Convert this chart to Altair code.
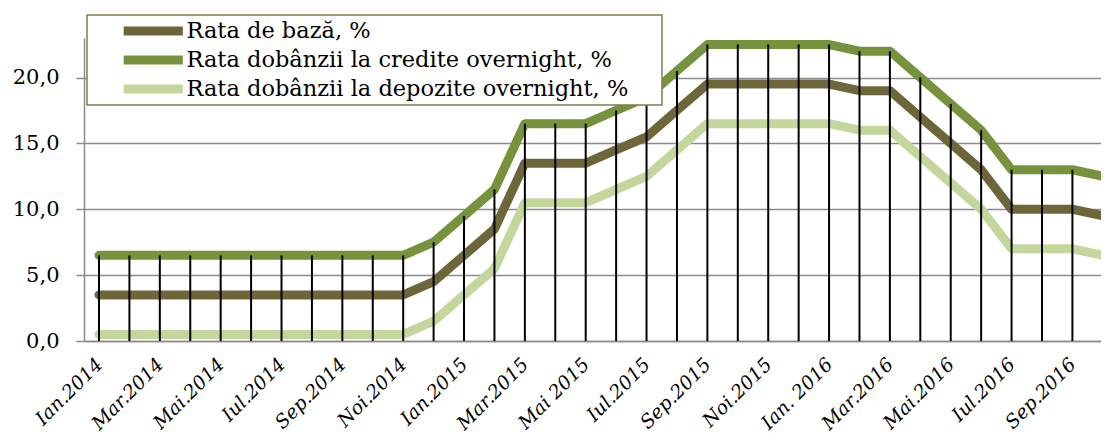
import json
import altair as alt
import pandas as pd

# ---- data ----
months = [
    "Ian.2014", "Feb.2014", "Mar.2014", "Apr.2014", "Mai.2014", "Iun.2014",
    "Iul.2014", "Aug.2014", "Sep.2014", "Oct.2014", "Noi.2014", "Dec.2014",
    "Ian.2015", "Feb.2015", "Mar.2015", "Apr.2015", "Mai 2015", "Iun.2015",
    "Iul.2015", "Aug.2015", "Sep.2015", "Oct.2015", "Noi.2015", "Dec.2015",
    "Ian. 2016", "Feb.2016", "Mar.2016", "Apr.2016", "Mai.2016", "Iun.2016",
    "Iul.2016", "Aug.2016", "Sep.2016", "Oct.2016",
]
rata_baza = [
    3.5, 3.5, 3.5, 3.5, 3.5, 3.5, 3.5, 3.5, 3.5, 3.5, 3.5, 4.5,
    6.5, 8.5, 13.5, 13.5, 13.5, 14.5, 15.5, 17.5, 19.5, 19.5, 19.5, 19.5,
    19.5, 19.0, 19.0, 17.0, 15.0, 13.0, 10.0, 10.0, 10.0, 9.5,
]
rata_credite = [
    6.5, 6.5, 6.5, 6.5, 6.5, 6.5, 6.5, 6.5, 6.5, 6.5, 6.5, 7.5,
    9.5, 11.5, 16.5, 16.5, 16.5, 17.5, 18.5, 20.5, 22.5, 22.5, 22.5, 22.5,
    22.5, 22.0, 22.0, 20.0, 18.0, 16.0, 13.0, 13.0, 13.0, 12.5,
]
rata_depozite = [
    0.5, 0.5, 0.5, 0.5, 0.5, 0.5, 0.5, 0.5, 0.5, 0.5, 0.5, 1.5,
    3.5, 5.5, 10.5, 10.5, 10.5, 11.5, 12.5, 14.5, 16.5, 16.5, 16.5, 16.5,
    16.5, 16.0, 16.0, 14.0, 12.0, 10.0, 7.0, 7.0, 7.0, 6.5,
]
series_names = [
    "Rata de bază, %",
    "Rata dobânzii la credite overnight, %",
    "Rata dobânzii la depozite overnight,  %",
]
series_colors = ["#6E663B", "#76923C", "#C3D69B"]
y_ticks = [0, 5, 10, 15, 20]
x_tick_idx = list(range(0, len(months), 2))

# ---- tables ----
rows = []
for name, vals in zip(series_names, [rata_baza, rata_credite, rata_depozite]):
    for i, v in enumerate(vals):
        rows.append({"idx": i, "luna": months[i], "serie": name, "valoare": v})
df = pd.DataFrame(rows)
drops = pd.DataFrame({"idx": list(range(len(months))), "sus": rata_credite})

FONT = "DejaVu Serif"
GRAY = "#8C8C8C"

x_scale = alt.Scale(domain=[-0.493, 32.94], nice=False, zero=False)
y_scale = alt.Scale(domain=[0, 23], nice=False)

label_expr = json.dumps(months) + "[datum.value]"

x_enc = alt.X(
    "idx:Q", scale=x_scale, title=None,
    axis=alt.Axis(
        values=x_tick_idx, labelExpr=label_expr, labelAngle=-45,
        labelAlign="right", labelBaseline="middle", labelPadding=20,
        ticks=False, grid=False, domainColor=GRAY, domainWidth=1.5,
        labelFont=FONT, labelFontSize=19, labelFontStyle="italic",
        labelColor="#000000", labelOverlap=False,
    ),
)

lines = alt.Chart(df).mark_line(
    strokeWidth=9, strokeCap="round", strokeJoin="round"
).encode(
    x=x_enc,
    y=alt.Y(
        "valoare:Q", scale=y_scale, title=None,
        axis=alt.Axis(
            values=y_ticks, labelExpr="replace(format(datum.value, '.1f'), '.', ',')",
            grid=True, gridColor=GRAY, gridWidth=1.5,
            domainColor=GRAY, domainWidth=1.5,
            ticks=True, tickSize=8, tickColor=GRAY, tickWidth=1.5,
            labelPadding=17, labelFont=FONT, labelFontSize=21, labelColor="#000000",
        ),
    ),
    color=alt.Color(
        "serie:N", sort=series_names,
        scale=alt.Scale(domain=series_names, range=series_colors),
        legend=alt.Legend(
            title="\u00a0", titleOrient="right", titleFontSize=1, titlePadding=24,
            orient="none", legendX=3, legendY=-23,
            direction="vertical", fillColor="#FFFFFF", strokeColor="#837D52",
            padding=3, clipHeight=26,
            symbolType="M -5 0 L 5 0", symbolSize=140, symbolStrokeWidth=9,
            symbolOffset=52, labelOffset=22, rowPadding=3,
            labelFont=FONT, labelFontSize=22.5, labelColor="#000000", labelLimit=700,
        ),
    ),
    detail="serie:N",
)

rules = alt.Chart(drops).mark_rule(color="#000000", strokeWidth=2).encode(
    x=alt.X("idx:Q", scale=x_scale),
    y=alt.Y("sus:Q", scale=y_scale),
    y2=alt.datum(0),
)

chart = alt.layer(lines, rules).properties(
    width=1017, height=303,
    padding={"left": 76, "top": 30, "right": 0, "bottom": 94},
    autosize=alt.AutoSizeParams(type="none"),
).configure_view(stroke=None).configure_legend(strokeWidth=1.5)

chart.save("out.html", embed_options={"renderer": "svg", "actions": False})
